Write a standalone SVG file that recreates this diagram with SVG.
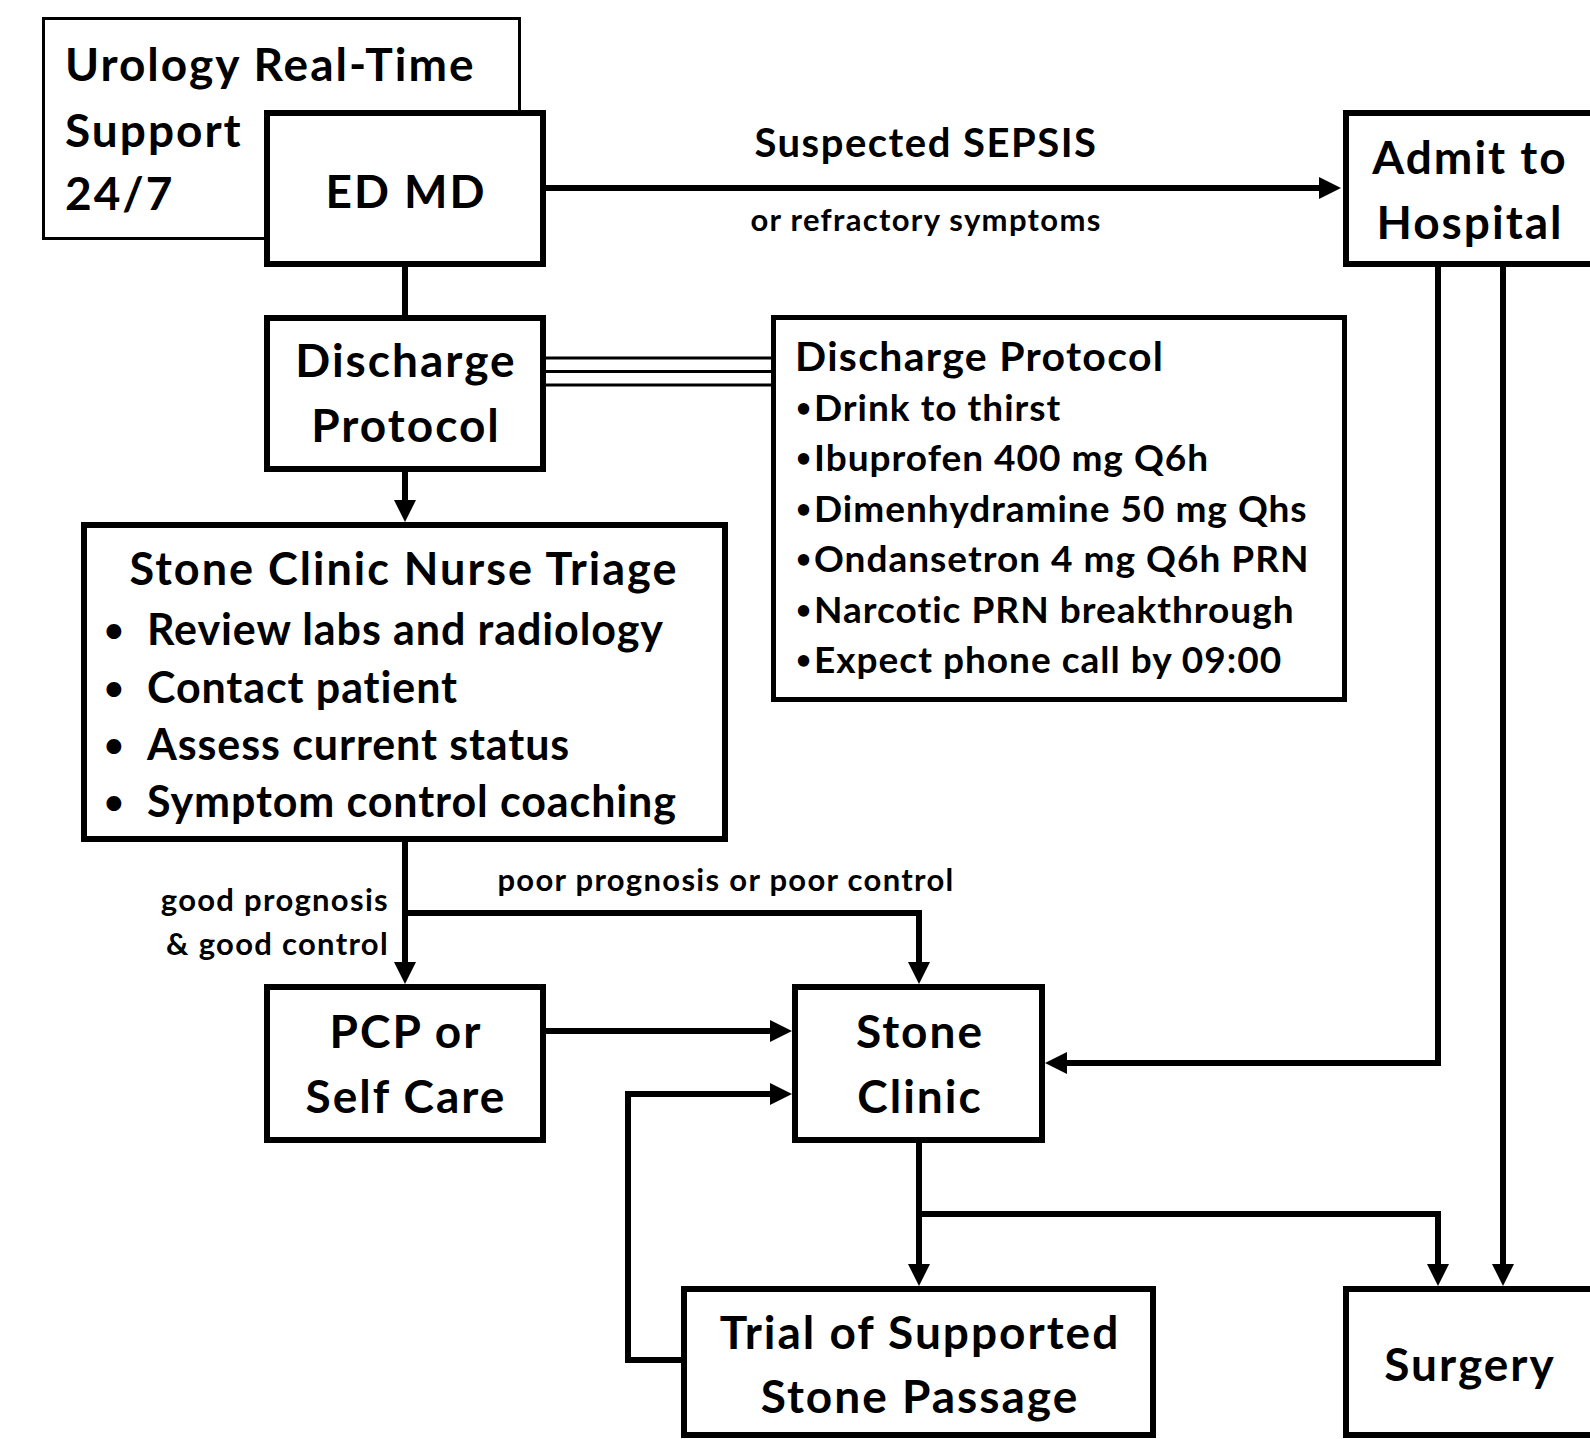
<svg xmlns="http://www.w3.org/2000/svg" width="1590" height="1439" viewBox="0 0 1590 1439">
<style>
text{font-family:Lato,"Open Sans","Liberation Sans",sans-serif;font-weight:bold;fill:#000}
.box{fill:#fff;stroke:#000;stroke-width:6}
.thin{fill:#fff;stroke:#000;stroke-width:3}
.big{font-size:46px;letter-spacing:2px}
.mid{font-size:40px;letter-spacing:1.5px}
.ttl{font-size:41px;letter-spacing:1.3px}
.lst{font-size:37px;letter-spacing:1px}
.dot{font-size:26px}
.tdot{font-size:34px}
.tt{font-size:45px;letter-spacing:2px}
.tri{font-size:43px;letter-spacing:0.9px}
.sm{font-size:31px;letter-spacing:1.3px}
.c{text-anchor:middle}
.e{text-anchor:end}
.ln{fill:none;stroke:#000;stroke-width:6}
.ln3{fill:none;stroke:#000;stroke-width:3}
.arr{marker-end:url(#ah)}
</style>
<defs>
<marker id="ah" markerUnits="userSpaceOnUse" markerWidth="24" markerHeight="24" refX="2" refY="11" orient="auto">
<path d="M0,0 L22,11 L0,22 z" fill="#000"/>
</marker>
</defs>
<rect width="1590" height="1439" fill="#fff"/>
<g id="urology">
<rect class="thin" x="43.5" y="18.5" width="476" height="220"/>
<text class="big" x="65" y="81">Urology Real-Time</text>
<text class="big" x="65" y="147">Support</text>
<text class="big" x="65" y="210">24/7</text>
</g>
<g id="connectors">
<path class="ln arr" d="M546,188 H1321"/>
<path class="ln" d="M405,267 V315"/>
<path class="ln3" d="M546,358 H771 M546,371.5 H771 M546,385 H771"/>
<path class="ln arr" d="M405,472 V502"/>
<path class="ln arr" d="M405,842 V964"/>
<path class="ln arr" d="M405,913 H919 V964"/>
<path class="ln arr" d="M546,1031 H772"/>
<path class="ln arr" d="M681,1360 H628 V1094 H772"/>
<path class="ln arr" d="M1438,267 V1063 H1065"/>
<path class="ln arr" d="M1503,267 V1266"/>
<path class="ln arr" d="M919,1143 V1266"/>
<path class="ln arr" d="M919,1214 H1438 V1266"/>
</g>
<g id="edmd">
<rect class="box" x="267" y="113" width="276" height="151"/>
<text class="big c" x="406" y="208">ED MD</text>
</g>
<g id="admit">
<rect class="box" x="1346" y="113" width="260" height="151"/>
<text class="big c" x="1470" y="174">Admit to</text>
<text class="big c" x="1470" y="239">Hospital</text>
</g>
<g id="discharge">
<rect class="box" x="267" y="318" width="276" height="151"/>
<text class="big c" x="406" y="377">Discharge</text>
<text class="big c" x="406" y="442">Protocol</text>
</g>
<g id="discharge-list">
<rect class="box" x="773.5" y="317.5" width="571" height="382" style="stroke-width:5"/>
<text class="ttl" x="795" y="371">Discharge Protocol</text>
<g class="dot">
<text x="796" y="417">•</text>
<text x="796" y="467">•</text>
<text x="796" y="518">•</text>
<text x="796" y="568">•</text>
<text x="796" y="619">•</text>
<text x="796" y="669">•</text>
</g>
<text class="lst" x="814" y="421">Drink to thirst</text>
<text class="lst" x="814" y="471">Ibuprofen 400 mg Q6h</text>
<text class="lst" x="814" y="522">Dimenhydramine 50 mg Qhs</text>
<text class="lst" x="814" y="572">Ondansetron 4 mg Q6h PRN</text>
<text class="lst" x="814" y="623">Narcotic PRN breakthrough</text>
<text class="lst" x="814" y="673">Expect phone call by 09:00</text>
</g>
<g id="triage">
<rect class="box" x="84" y="525" width="641" height="314"/>
<text class="tt c" x="404" y="585">Stone Clinic Nurse Triage</text>
<g class="tdot">
<text x="104" y="642">•</text>
<text x="104" y="700">•</text>
<text x="104" y="757">•</text>
<text x="104" y="814">•</text>
</g>
<text class="tri" x="147" y="645">Review labs and radiology</text>
<text class="tri" x="147" y="703">Contact patient</text>
<text class="tri" x="147" y="760">Assess current status</text>
<text class="tri" x="147" y="817">Symptom control coaching</text>
</g>
<g id="labels">
<text class="mid c" x="926" y="157">Suspected SEPSIS</text>
<text class="sm c" x="926" y="231">or refractory symptoms</text>
<text class="sm e" x="389" y="911">good prognosis</text>
<text class="sm e" x="389" y="955">&amp; good control</text>
<text class="sm c" x="726" y="891">poor prognosis or poor control</text>
</g>
<g id="pcp">
<rect class="box" x="267" y="987" width="276" height="153"/>
<text class="big c" x="406" y="1048">PCP or</text>
<text class="big c" x="406" y="1113">Self Care</text>
</g>
<g id="stone-clinic">
<rect class="box" x="795" y="987" width="247" height="153"/>
<text class="big c" x="920" y="1048">Stone</text>
<text class="big c" x="920" y="1113">Clinic</text>
</g>
<g id="trial">
<rect class="box" x="684" y="1289" width="469" height="146"/>
<text class="big c" x="920" y="1349">Trial of Supported</text>
<text class="big c" x="920" y="1413">Stone Passage</text>
</g>
<g id="surgery">
<rect class="box" x="1346" y="1289" width="260" height="146"/>
<text class="big c" x="1470" y="1381">Surgery</text>
</g>
</svg>
